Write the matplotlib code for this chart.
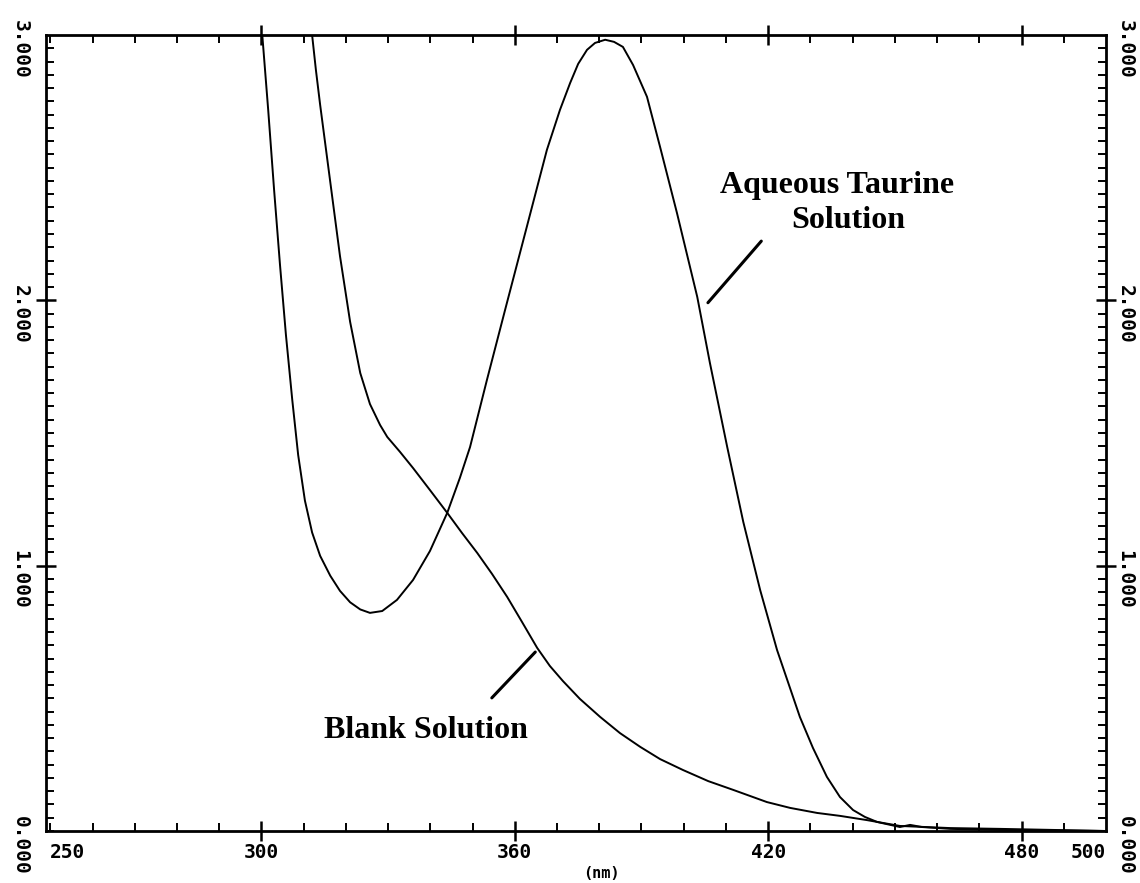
import numpy as np
import matplotlib
matplotlib.use('Agg')
import matplotlib.pyplot as plt
from matplotlib.transforms import blended_transform_factory, offset_copy

# absorbance spectra
taurine_nm = [300.2, 301.6, 303.0, 304.4, 305.8, 307.3, 308.7, 310.3, 312.0, 313.9,
              316.3, 318.6, 321.0, 323.4, 325.7, 328.6, 332.1, 335.9, 339.9, 344.0,
              347.0, 349.4, 353.4, 357.7, 362.4, 367.6, 370.7, 373.1, 375.0, 377.1,
              379.0, 381.4, 383.5, 385.6, 388.0, 391.3, 394.4, 398.4, 403.2, 406.2,
              410.3, 414.1, 418.1, 422.1, 427.5, 430.6, 433.9, 437.0, 440.1, 442.9,
              445.8, 451.2, 453.6, 456.4, 463.1, 474.9, 500.0]
taurine_abs = [3.0, 2.718, 2.416, 2.133, 1.870, 1.625, 1.417, 1.245, 1.125, 1.037,
               0.962, 0.905, 0.862, 0.835, 0.822, 0.829, 0.871, 0.946, 1.055, 1.199,
               1.331, 1.447, 1.700, 1.964, 2.250, 2.567, 2.718, 2.819, 2.891, 2.944,
               2.970, 2.982, 2.974, 2.955, 2.887, 2.767, 2.578, 2.329, 2.013, 1.764,
               1.447, 1.165, 0.908, 0.682, 0.430, 0.313, 0.204, 0.128, 0.079, 0.053,
               0.034, 0.015, 0.023, 0.015, 0.008, 0.004, 0.0]

blank_nm = [312.0, 312.9, 313.9, 316.3, 318.6, 321.0, 323.4, 325.7, 328.1, 329.8,
            332.8, 335.9, 339.9, 344.0, 347.5, 351.1, 354.6, 358.2, 361.7, 365.3,
            368.3, 371.4, 375.4, 380.2, 384.9, 389.7, 394.4, 399.8, 405.8, 411.7,
            419.7, 425.2, 431.6, 437.0, 443.4, 451.2, 463.1, 474.9, 500.0]
blank_abs = [3.0, 2.868, 2.737, 2.446, 2.167, 1.919, 1.726, 1.609, 1.530, 1.485,
             1.429, 1.368, 1.285, 1.199, 1.123, 1.048, 0.969, 0.882, 0.788, 0.690,
             0.622, 0.565, 0.498, 0.430, 0.369, 0.317, 0.271, 0.230, 0.188, 0.155,
             0.109, 0.087, 0.068, 0.057, 0.041, 0.019, 0.011, 0.008, 0.0]

x_major = [300, 360, 420, 480]
x_labels = ['250', '300', '360', '420', '480', '500']
x_label_pos = [250, 300, 360, 420, 480, 500]
y_major = [0, 1, 2, 3]
y_labels = ['0.000', '1.000', '2.000', '3.000']

fig = plt.figure(figsize=(11.4, 8.83), dpi=100)
ax = fig.add_axes([0.0404, 0.0589, 0.9298, 0.9015])

ax.plot(taurine_nm, taurine_abs, color='black', lw=1.4)
ax.plot(blank_nm, blank_abs, color='black', lw=1.4)

ax.set_xlim(249, 500)
ax.set_ylim(0, 3)

for s in ax.spines.values():
    s.set_linewidth(2)

ax.set_xticks(x_major)
ax.set_xticks(np.arange(250, 500, 10), minor=True)
ax.set_yticks([1, 2])
ax.set_yticks(np.arange(0, 3.0, 0.05), minor=True)
ax.tick_params(which='major', direction='inout', length=14, width=1.8,
               top=True, right=True, labelbottom=False, labelleft=False)
ax.tick_params(which='minor', direction='in', length=6, width=1.4,
               top=True, right=True)

mono = dict(family='DejaVu Sans Mono', weight='bold', fontsize=14, color='black')

# x tick labels
tx = blended_transform_factory(ax.transData, fig.transFigure)
for v, lab in zip(x_label_pos, x_labels):
    ha = 'center'
    if v == 250:
        ha = 'left'
    elif v == 500:
        ha = 'right'
    ax.text(v, 1 - 852 / 883, lab, transform=tx, ha=ha, va='center', **mono)
fig.text(601 / 1140, 1 - 874 / 883, '(nm)', ha='center', va='center',
         family='DejaVu Sans Mono', weight='bold', fontsize=11)

# y tick labels, rotated, on both sides
ty = blended_transform_factory(fig.transFigure, ax.transData)
ty = offset_copy(ty, fig=fig, y=-14, units='dots')
for v, lab in zip(y_major, y_labels):
    ax.text(20 / 1140, v, lab, transform=ty, rotation=-90,
            ha='center', va='center', **mono)
    ax.text(1125 / 1140, v, lab, transform=ty, rotation=-90,
            ha='center', va='center', **mono)

# curve labels and pointers
serif = dict(family='Liberation Serif', weight='bold', fontsize=23, color='black')
fig.text(720 / 1140, 1 - 193 / 883, 'Aqueous Taurine', ha='left', va='baseline', **serif)
fig.text(848 / 1140, 1 - 228 / 883, 'Solution', ha='center', va='baseline', **serif)
fig.text(426 / 1140, 1 - 730 / 883, 'Blank Solution', ha='center', va='center', **serif)

ax.annotate('', xy=(405.3, 1.983), xytext=(418.8, 2.231),
            arrowprops=dict(arrowstyle='-', lw=2.2, color='black'))
ax.annotate('', xy=(365.3, 0.682), xytext=(354.1, 0.494),
            arrowprops=dict(arrowstyle='-', lw=2.2, color='black'))

fig.savefig('out.png', dpi=100)
